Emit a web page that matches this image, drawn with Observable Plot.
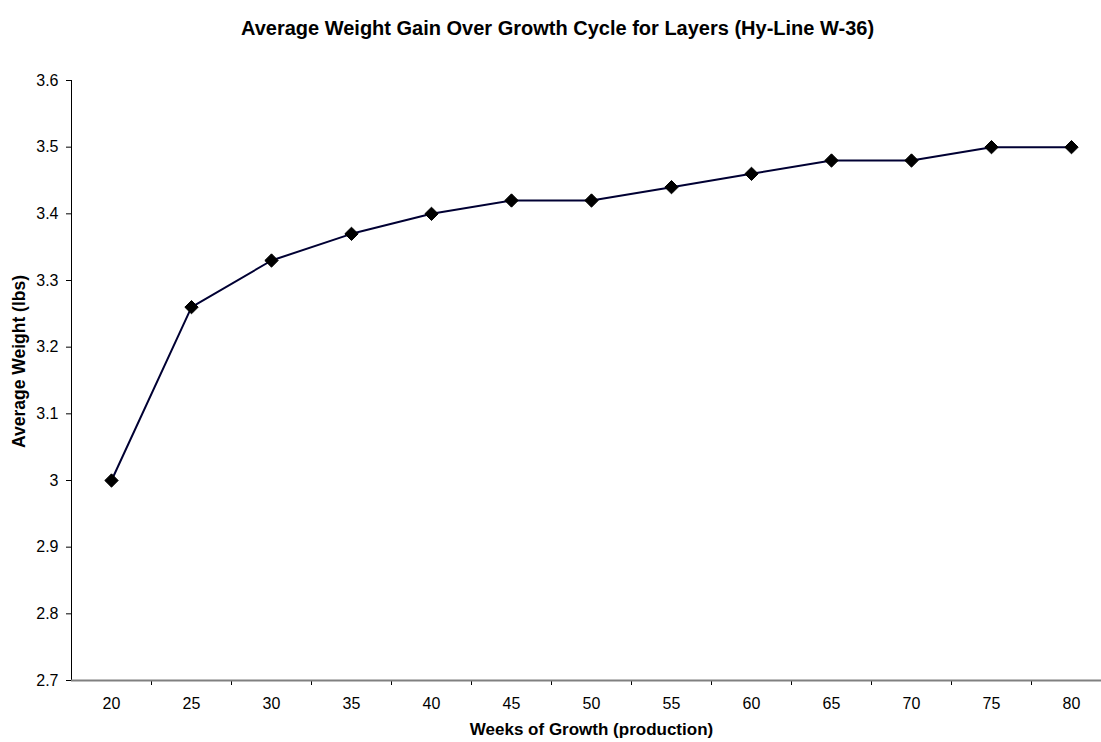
<!DOCTYPE html>
<html>
<head>
<meta charset="utf-8">
<script src="https://cdn.jsdelivr.net/npm/d3@7"></script>
<script src="https://cdn.jsdelivr.net/npm/@observablehq/plot@0.6"></script>
<style>
  html, body { margin: 0; padding: 0; background: #fff; }
  #chart svg { display: block; font-family: "Liberation Sans", Arial, sans-serif; }
</style>
</head>
<body>
<div id="chart"></div>
<script>
const weeks = [20, 25, 30, 35, 40, 45, 50, 55, 60, 65, 70, 75, 80];
const weights = [3.00, 3.26, 3.33, 3.37, 3.40, 3.42, 3.42, 3.44, 3.46, 3.48, 3.48, 3.50, 3.50];
const yTicks = [2.7, 2.8, 2.9, 3.0, 3.1, 3.2, 3.3, 3.4, 3.5, 3.6];
const title = "Average Weight Gain Over Growth Cycle for Layers (Hy-Line W-36)";
const xTitle = "Weeks of Growth (production)";
const yTitle = "Average Weight (lbs)";

const data = weeks.map((w, i) => ({week: w, weight: weights[i]}));
const step = weeks[1] - weeks[0];
const xMin = weeks[0] - step / 2;
const xMax = weeks[weeks.length - 1] + step / 2;
const boundaries = d3.range(xMin + step, xMax, step);

const chart = Plot.plot({
  width: 1101,
  height: 742,
  marginLeft: 71,
  marginRight: -10,
  marginTop: 80,
  marginBottom: 62,
  style: {fontFamily: "'Liberation Sans', Arial, sans-serif", fontSize: "16px", color: "#000", background: "#fff"},
  x: {domain: [xMin, xMax]},
  y: {domain: [2.7, 3.6]},
  marks: [
    Plot.ruleX([xMin], {stroke: "#000", strokeWidth: 1}),
    Plot.axisY({ticks: yTicks, tickSize: 5, tickPadding: 8, tickFormat: d => String(+d.toFixed(1)),
      label: null, fontSize: 16}),
    Plot.axisX({ticks: boundaries, tickSize: 5, tickFormat: () => "", label: null}),
    Plot.axisX({ticks: weeks, tickSize: 0, tickPadding: 17, tickFormat: d => String(d),
      label: null, fontSize: 16}),
    Plot.ruleY([2.7], {stroke: "#808080", strokeWidth: 2}),
    Plot.line(data, {x: "week", y: "weight", stroke: "#000033", strokeWidth: 2}),
    Plot.dot(data, {x: "week", y: "weight", symbol: "diamond2", r: 6, fill: "#000", stroke: "#000", strokeWidth: 1}),
    Plot.text([title], {frameAnchor: "top", dx: -34, dy: -60, text: d => d, fontWeight: "bold", fontSize: 20, fill: "#000"}),
    Plot.text([xTitle], {frameAnchor: "bottom", dy: 54, text: d => d, fontWeight: "bold", fontSize: 17, fill: "#000"}),
    Plot.text([yTitle], {frameAnchor: "left", textAnchor: "middle", dx: -52, dy: -19, rotate: -90, text: d => d, fontWeight: "bold", fontSize: 17.5, fill: "#000"})
  ]
});
document.getElementById("chart").appendChild(chart);
</script>
</body>
</html>
